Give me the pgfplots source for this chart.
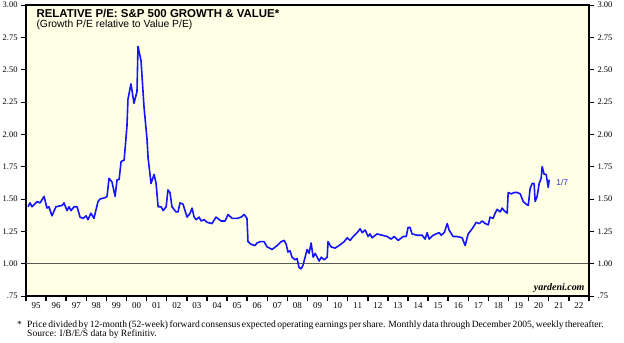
\documentclass[border=0pt]{standalone}
\usepackage{fontspec}
\setmainfont{Liberation Serif}
\newfontfamily\arial{Liberation Sans}
\usepackage{pgfplots}
\pgfplotsset{compat=1.18}
\usepackage{pgfplotstable}
\definecolor{bgyellow}{RGB}{255,255,230}
\definecolor{lineblue}{RGB}{20,20,255}
\definecolor{lblblue}{RGB}{50,50,200}
\pgfplotstableread{
x y
1995.10 1.44
1995.20 1.47
1995.30 1.44
1995.55 1.48
1995.70 1.47
1995.90 1.52
1996.04 1.43
1996.14 1.44
1996.29 1.37
1996.49 1.44
1996.79 1.45
1996.89 1.47
1997.04 1.41
1997.14 1.44
1997.24 1.41
1997.39 1.44
1997.54 1.44
1997.69 1.36
1997.84 1.35
1997.99 1.37
1998.08 1.34
1998.23 1.39
1998.38 1.35
1998.58 1.48
1998.68 1.50
1998.93 1.51
1999.03 1.52
1999.13 1.66
1999.28 1.63
1999.43 1.52
1999.53 1.65
1999.63 1.65
1999.73 1.79
1999.88 1.80
2000.02 2.06
2000.07 2.27
2000.17 2.35
2000.22 2.39
2000.37 2.24
2000.52 2.33
2000.57 2.68
2000.72 2.57
2000.87 2.21
2001.02 1.96
2001.07 1.82
2001.22 1.62
2001.37 1.69
2001.47 1.62
2001.57 1.44
2001.72 1.44
2001.82 1.41
2001.97 1.44
2002.06 1.57
2002.16 1.55
2002.26 1.44
2002.46 1.40
2002.56 1.40
2002.66 1.47
2002.81 1.46
2003.01 1.36
2003.16 1.39
2003.26 1.43
2003.36 1.36
2003.46 1.34
2003.61 1.36
2003.71 1.33
2003.86 1.34
2004.00 1.32
2004.25 1.31
2004.45 1.36
2004.70 1.33
2004.90 1.33
2005.05 1.38
2005.25 1.35
2005.50 1.35
2005.70 1.36
2005.85 1.38
2005.99 1.35
2006.04 1.17
2006.19 1.15
2006.39 1.14
2006.49 1.16
2006.64 1.17
2006.84 1.17
2006.99 1.13
2007.24 1.11
2007.49 1.14
2007.69 1.17
2007.84 1.18
2007.94 1.15
2008.03 1.09
2008.13 1.10
2008.23 1.05
2008.38 1.03
2008.48 1.04
2008.58 0.97
2008.68 0.96
2008.78 0.99
2008.88 1.05
2008.98 1.11
2009.08 1.08
2009.18 1.16
2009.28 1.05
2009.38 1.08
2009.48 1.05
2009.58 1.02
2009.68 1.05
2009.83 1.03
2009.98 1.05
2010.02 1.17
2010.17 1.13
2010.37 1.12
2010.57 1.14
2010.82 1.17
2010.97 1.20
2011.12 1.18
2011.27 1.21
2011.47 1.24
2011.62 1.27
2011.72 1.24
2011.87 1.26
2012.01 1.21
2012.11 1.23
2012.21 1.20
2012.46 1.23
2012.71 1.22
2012.96 1.21
2013.16 1.19
2013.31 1.21
2013.51 1.18
2013.76 1.21
2013.91 1.21
2014.00 1.28
2014.10 1.28
2014.20 1.23
2014.45 1.22
2014.70 1.22
2014.85 1.19
2014.95 1.24
2015.05 1.19
2015.25 1.22
2015.55 1.24
2015.65 1.22
2015.80 1.24
2015.95 1.31
2016.04 1.26
2016.24 1.21
2016.44 1.21
2016.69 1.20
2016.84 1.14
2016.99 1.23
2017.19 1.27
2017.39 1.32
2017.54 1.31
2017.69 1.33
2017.84 1.31
2017.99 1.30
2018.08 1.36
2018.23 1.35
2018.33 1.39
2018.43 1.42
2018.58 1.40
2018.68 1.43
2018.78 1.41
2018.93 1.39
2018.98 1.55
2019.13 1.54
2019.28 1.55
2019.43 1.55
2019.58 1.54
2019.73 1.48
2019.88 1.46
2019.98 1.45
2020.07 1.58
2020.17 1.62
2020.27 1.62
2020.32 1.48
2020.42 1.52
2020.52 1.62
2020.62 1.66
2020.67 1.75
2020.77 1.69
2020.87 1.69
2020.97 1.59
2021.02 1.65
}\pedata
\begin{document}
\begin{tikzpicture}[x=1bp,y=1bp]
\path[use as bounding box] (0,0) rectangle (624,342);
\begin{axis}[
  at={(26bp,46bp)}, anchor=south west,
  width=563bp, height=291bp, scale only axis,
  xmin=1995, xmax=2023, ymin=0.75, ymax=3.0,
  axis background/.style={fill=bgyellow},
  axis line style={line width=1.6bp},
  tick align=outside,
  xtick={1995,...,2023},
  x tick label as interval,
  xticklabels={95,96,97,98,99,00,01,02,03,04,05,06,07,08,09,10,11,12,13,14,15,16,17,18,19,20,21,22},
  xtick pos=left,
  x tick style={line width=1.5bp, black},
  x tick label style={font=\fontsize{9}{10}\selectfont, yshift=2bp},
  ytick={0.75,1,1.25,1.5,1.75,2,2.25,2.5,2.75,3},
  yticklabels={.75,1.00,1.25,1.50,1.75,2.00,2.25,2.50,2.75,3.00},
  ytick pos=left,
  y tick style={line width=0.5bp, black},
  y tick label style={font=\fontsize{8.5}{10}\selectfont},
  major tick length=5bp,
  /pgf/number format/assume math mode=true,
  clip=true,
]
\draw[gray!70!black, line width=0.8bp] (axis cs:1995,1) -- (axis cs:2023,1);
\addplot[lineblue, line width=1.6bp, line join=round] table[x=x,y=y] {\pedata};
\node[anchor=west, text=lblblue, font=\arial\fontsize{8.5}{10}\selectfont] at (axis cs:2021.2,1.63) {1/7};
\node[anchor=base east, font=\bfseries\itshape\fontsize{10}{12}\selectfont] at (axis cs:2022.95,0.79) {yardeni.com};
\end{axis}
\begin{axis}[
  at={(26bp,46bp)}, anchor=south west,
  width=563bp, height=291bp, scale only axis,
  xmin=1995, xmax=2023, ymin=0.75, ymax=3.0,
  axis y line*=right, axis x line=none,
  axis line style={line width=1.6bp},
  tick align=outside,
  ytick={0.75,1,1.25,1.5,1.75,2,2.25,2.5,2.75,3},
  yticklabels={.75,1.00,1.25,1.50,1.75,2.00,2.25,2.50,2.75,3.00},
  y tick style={line width=0.5bp, black},
  y tick label style={font=\fontsize{8.5}{10}\selectfont},
  major tick length=5bp,
  /pgf/number format/assume math mode=true,
]
\end{axis}
\node[anchor=base west, font=\arial\bfseries\fontsize{11.5}{13}\selectfont] at (33,324.7) {RELATIVE P/E: S\&P 500 GROWTH \& VALUE*};
\node[anchor=base west, font=\arial\fontsize{10.4}{12}\selectfont] at (33,314.3) {(Growth P/E relative to Value P/E)};
\node[anchor=base west, font=\fontsize{9.6}{10}\selectfont, inner sep=0pt] at (17,15) {*};
\node[anchor=base west, font=\fontsize{9.6}{10}\selectfont, inner sep=0pt] at (27,15) {\makebox[570bp][s]{Price divided by 12-month (52-week) forward consensus expected operating earnings per share. Monthly data through December 2005, weekly thereafter.}};
\node[anchor=base west, font=\fontsize{9.6}{10}\selectfont, inner sep=0pt] at (27,6) {Source: I/B/E/S data by Refinitiv.};
\end{tikzpicture}
\end{document}
